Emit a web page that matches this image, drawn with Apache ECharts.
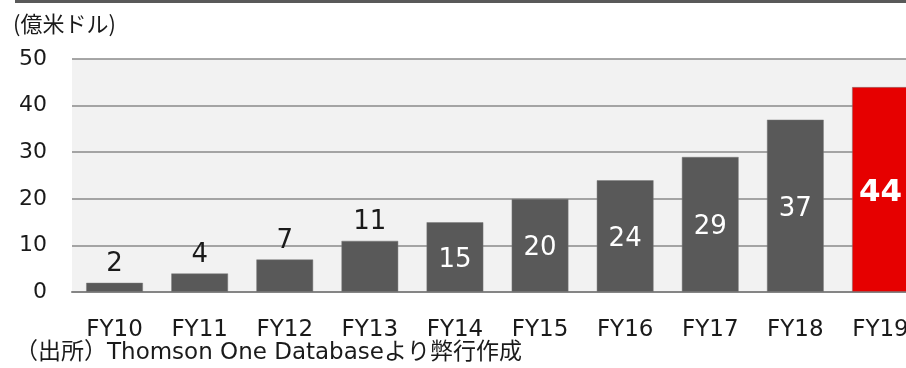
<!DOCTYPE html>
<html>
<head>
<meta charset="utf-8">
<script src="https://cdn.jsdelivr.net/npm/echarts@6/dist/echarts.min.js"></script>
<style>
  html, body { margin: 0; padding: 0; background: #ffffff; }
  #chart { width: 906px; height: 368px; }
</style>
</head>
<body>
<div id="chart"></div>
<script>
// Fiscal years and amounts (億米ドル)
const categories = ['FY10', 'FY11', 'FY12', 'FY13', 'FY14', 'FY15', 'FY16', 'FY17', 'FY18', 'FY19'];
const amounts = [2, 4, 7, 11, 15, 20, 24, 29, 37, 44];
const yTicks = [0, 10, 20, 30, 40, 50];
const unitLabel = '(億米ドル)';
const sourceNote = '（出所）Thomson One Databaseより弊行作成';

const LATIN = 'DejaVu Sans, Verdana, Noto Sans CJK JP, sans-serif';
const CJK = 'Noto Sans CJK JP, DejaVu Sans, sans-serif';
const GRAY = '#595959';
const RED = '#e60000';

const lastIdx = amounts.length - 1;
const barData = amounts.map((v, i) => {
  const highlight = i === lastIdx;
  const small = v < 13;
  return {
    value: v,
    itemStyle: { color: highlight ? RED : GRAY },
    label: highlight
      ? { position: 'inside', offset: [0, 3], color: '#ffffff', fontSize: 31, fontWeight: 'bold' }
      : small
        ? { position: 'top', distance: 5, color: '#1a1a1a' }
        : { position: 'inside', offset: [0, 3], color: '#ffffff' }
  };
});

const chart = echarts.init(document.getElementById('chart'), null, { renderer: 'canvas' });
chart.setOption({
  animation: false,
  grid: {
    left: 72, width: 851, top: 59, height: 233,
    outerBoundsMode: 'none',
    containLabel: false,
    show: true, backgroundColor: '#f2f2f2', borderWidth: 0
  },
  xAxis: {
    type: 'category',
    data: categories,
    axisTick: { show: false },
    axisLine: { show: true, lineStyle: { color: '#858585', width: 2 } },
    axisLabel: { margin: 27, color: '#1a1a1a', fontSize: 23, fontFamily: LATIN, interval: 0 }
  },
  yAxis: {
    type: 'value',
    min: yTicks[0],
    max: yTicks[yTicks.length - 1],
    interval: yTicks[1] - yTicks[0],
    axisLine: { show: false },
    axisTick: { show: false },
    axisLabel: { margin: 25, color: '#1a1a1a', fontSize: 22, fontFamily: LATIN },
    splitLine: { show: true, lineStyle: { color: '#8a8a8a', width: 1.5 } }
  },
  series: [{
    type: 'bar',
    data: barData,
    barWidth: 57,
    itemStyle: { borderColor: 'rgba(120,120,120,0.6)', borderWidth: 0.8 },
    label: {
      show: true,
      fontSize: 26,
      fontFamily: LATIN,
      formatter: p => String(p.value)
    }
  }],
  graphic: [
    { type: 'rect', left: 15, top: 0, shape: { width: 891, height: 3 }, style: { fill: '#595959' } },
    { type: 'text', left: 13, top: 13, style: { text: unitLabel, font: '22px ' + CJK, fill: '#1a1a1a' } },
    { type: 'text', left: 15, top: 342, style: { text: sourceNote, font: '23px ' + LATIN, fill: '#1a1a1a' } }
  ]
});
</script>
</body>
</html>
